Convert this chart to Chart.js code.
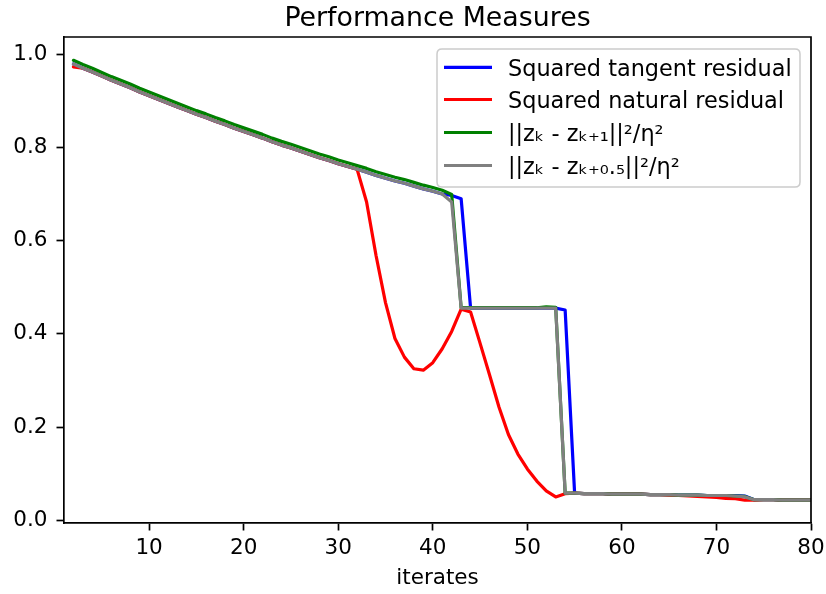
<!DOCTYPE html>
<html>
<head>
<meta charset="utf-8">
<script src="https://cdn.jsdelivr.net/npm/chart.js@4.4.1/dist/chart.umd.min.js"></script>
<style>
html,body{margin:0;padding:0;background:#fff;}
canvas{display:block;}
</style>
</head>
<body>
<canvas id="c" width="826" height="594"></canvas>
<script>
const iterates = [2,3,4,5,6,7,8,9,10,11,12,13,14,15,16,17,18,19,20,21,22,23,24,25,26,27,28,29,30,31,32,33,34,35,36,37,38,39,40,41,42,43,44,45,46,47,48,49,50,51,52,53,54,55,56,57,58,59,60,61,62,63,64,65,66,67,68,69,70,71,72,73,74,75,76,77,78,79,80];

const tangentResidual = [0.979,0.970,0.962,0.953,0.944,0.936,0.928,0.919,0.911,0.903,0.895,0.887,0.879,0.871,0.864,0.856,0.849,0.841,0.834,0.827,0.820,0.812,0.805,0.799,0.792,0.785,0.778,0.772,0.765,0.759,0.753,0.747,0.740,0.734,0.728,0.723,0.717,0.711,0.706,0.700,
0.697,0.690,
0.455,0.455,0.455,0.455,0.455,0.455,0.455,0.455,0.455,0.455,
0.451,
0.058,0.057,0.057,0.057,0.056,0.056,0.056,0.056,0.055,0.055,0.055,0.054,0.054,0.054,0.053,0.053,0.053,0.053,0.052,0.044,0.044,0.044,0.043,0.043,0.043,0.043];

const naturalResidual = [0.973,
0.970,0.962,0.953,0.944,0.936,0.928,0.919,0.911,0.903,0.895,0.887,0.879,0.871,0.864,0.856,0.849,0.841,0.834,0.827,0.820,0.812,0.805,0.799,0.792,0.785,0.778,0.772,0.765,0.759,
0.753,0.683,0.568,0.467,0.390,0.350,0.325,0.322,0.338,0.368,0.405,0.453,0.447,0.380,0.312,0.243,0.184,0.142,0.110,0.084,0.063,0.050,0.057,
0.058,0.057,0.057,0.057,0.056,0.056,0.056,0.056,0.055,0.055,0.054,0.053,0.052,0.051,0.050,0.049,0.047,0.046,0.043,0.043,0.044,0.044,0.043,0.043,0.043,0.043];

const fullStepNorm = [0.987,0.978,0.970,0.961,0.952,0.944,0.936,0.927,0.919,0.911,0.903,0.895,0.887,0.879,0.872,0.864,0.857,0.849,0.842,0.835,0.828,0.820,0.813,0.807,0.800,0.793,0.786,0.780,0.773,0.767,0.761,0.755,0.748,0.742,0.736,0.731,0.725,0.719,0.714,0.708,
0.699,
0.456,0.456,0.456,0.456,0.456,0.456,0.456,0.456,0.456,
0.458,0.457,
0.058,0.058,0.057,0.057,0.057,0.056,0.056,0.056,0.056,0.055,0.055,0.055,0.054,0.054,0.054,0.053,0.053,0.053,0.052,0.051,0.044,0.044,0.044,0.043,0.043,0.043,0.043];

const halfStepNorm = [0.979,0.970,0.962,0.953,0.944,0.936,0.928,0.919,0.911,0.903,0.895,0.887,0.879,0.871,0.864,0.856,0.849,0.841,0.834,0.827,0.820,0.812,0.805,0.799,0.792,0.785,0.778,0.772,0.765,0.759,0.753,0.747,0.740,0.734,0.728,0.723,0.717,0.711,0.706,0.700,
0.683,
0.455,0.455,0.455,0.455,0.455,0.455,0.455,0.455,0.455,0.455,0.455,
0.058,0.058,0.057,0.057,0.057,0.056,0.056,0.056,0.056,0.055,0.055,0.055,0.054,0.054,0.054,0.053,0.053,0.053,0.052,0.050,0.044,0.044,0.044,0.043,0.043,0.043,0.043];

const seriesLabels = ['Squared tangent residual','Squared natural residual','||zₖ - zₖ₊₁||²/η²','||zₖ - zₖ₊₀.₅||²/η²'];
const seriesColors = ['#0000ff','#ff0000','#008000','#808080'];
const xTicks = [10,20,30,40,50,60,70,80];
const yTicks = [0.0,0.2,0.4,0.6,0.8,1.0];
const titleText = 'Performance Measures';
const xTitle = 'iterates';

const FONT = "'DejaVu Sans', 'Liberation Sans', sans-serif";
const seriesValues = [tangentResidual, naturalResidual, fullStepNorm, halfStepNorm];

const datasets = seriesValues.map((vals, i) => ({
  label: seriesLabels[i],
  data: iterates.map((x, j) => ({x: x, y: vals[j]})),
  borderColor: seriesColors[i],
  backgroundColor: seriesColors[i],
  borderWidth: 3.2,
  pointRadius: 0,
  tension: 0,
  fill: false,
  order: 4 - i,
  borderJoinStyle: 'round',
  borderCapStyle: 'round'
}));

const framePlugin = {
  id: 'frame',
  afterDatasetsDraw(chart) {
    const a = chart.chartArea, ctx = chart.ctx;
    ctx.save();
    ctx.strokeStyle = '#000';
    ctx.lineWidth = 1.7;
    ctx.beginPath();
    ctx.moveTo(a.left, a.top);
    ctx.lineTo(a.right, a.top);
    ctx.lineTo(a.right, a.bottom);
    ctx.stroke();
    ctx.restore();
  },
  afterDraw(chart) {
    const a = chart.chartArea, ctx = chart.ctx;
    ctx.save();
    ctx.fillStyle = '#000';
    ctx.font = "26.8px " + FONT;
    ctx.textAlign = 'center';
    ctx.textBaseline = 'alphabetic';
    ctx.fillText(titleText, (a.left + a.right) / 2, 26);
    const bx = 437, by = 49, bw = 363, bh = 138, r = 5;
    ctx.beginPath();
    ctx.moveTo(bx + r, by);
    ctx.lineTo(bx + bw - r, by);
    ctx.quadraticCurveTo(bx + bw, by, bx + bw, by + r);
    ctx.lineTo(bx + bw, by + bh - r);
    ctx.quadraticCurveTo(bx + bw, by + bh, bx + bw - r, by + bh);
    ctx.lineTo(bx + r, by + bh);
    ctx.quadraticCurveTo(bx, by + bh, bx, by + bh - r);
    ctx.lineTo(bx, by + r);
    ctx.quadraticCurveTo(bx, by, bx + r, by);
    ctx.closePath();
    ctx.fillStyle = 'rgba(255,255,255,0.8)';
    ctx.fill();
    ctx.strokeStyle = '#cccccc';
    ctx.lineWidth = 1.5;
    ctx.stroke();
    const rowsY = [67.3, 99.5, 132.5, 165.5];
    chart.data.datasets.forEach((ds, i) => {
      const y = rowsY[i];
      ctx.strokeStyle = ds.borderColor;
      ctx.lineWidth = 3.2;
      ctx.lineCap = 'butt';
      ctx.beginPath();
      ctx.moveTo(444, y);
      ctx.lineTo(492, y);
      ctx.stroke();
      ctx.fillStyle = '#000';
      ctx.font = "22.4px " + FONT;
      ctx.textAlign = 'left';
      ctx.textBaseline = 'alphabetic';
      ctx.fillText(ds.label, 508, y + 8.3);
    });
    ctx.restore();
  }
};

new Chart(document.getElementById('c'), {
  type: 'line',
  data: { datasets: datasets },
  options: {
    responsive: false,
    animation: false,
    devicePixelRatio: 1,
    layout: { padding: { top: 37, right: 15, left: 0, bottom: 0 } },
    plugins: { legend: { display: false }, title: { display: false }, tooltip: { enabled: false } },
    scales: {
      x: {
        type: 'linear',
        min: 1,
        max: 80,
        afterBuildTicks: s => { s.ticks = xTicks.map(v => ({ value: v })); },
        afterFit: s => { s.height = 71; s.paddingLeft = 0; s.paddingRight = 0; },
        grid: { drawOnChartArea: false, drawTicks: true, tickLength: 7.5, tickWidth: 1.7, tickColor: '#000' },
        border: { display: true, color: '#000', width: 1.7 },
        ticks: { color: '#000', font: { family: FONT, size: 21.5 }, padding: 5, maxRotation: 0, autoSkip: false,
                 callback: v => String(v) },
        title: { display: true, text: xTitle, color: '#000', font: { family: FONT, size: 21.5 }, padding: { top: 0, bottom: 3 } }
      },
      y: {
        type: 'linear',
        min: -0.006,
        max: 1.037,
        afterBuildTicks: s => { s.ticks = yTicks.map(v => ({ value: v })); },
        afterFit: s => { s.width = 64; s.paddingTop = 0; s.paddingBottom = 0; },
        grid: { drawOnChartArea: false, drawTicks: true, tickLength: 7.5, tickWidth: 1.7, tickColor: '#000' },
        border: { display: true, color: '#000', width: 1.7 },
        ticks: { color: '#000', font: { family: FONT, size: 21.5 }, padding: 9, autoSkip: false,
                 callback: v => Number(v).toFixed(1) }
      }
    }
  },
  plugins: [framePlugin]
});
</script>
</body>
</html>
